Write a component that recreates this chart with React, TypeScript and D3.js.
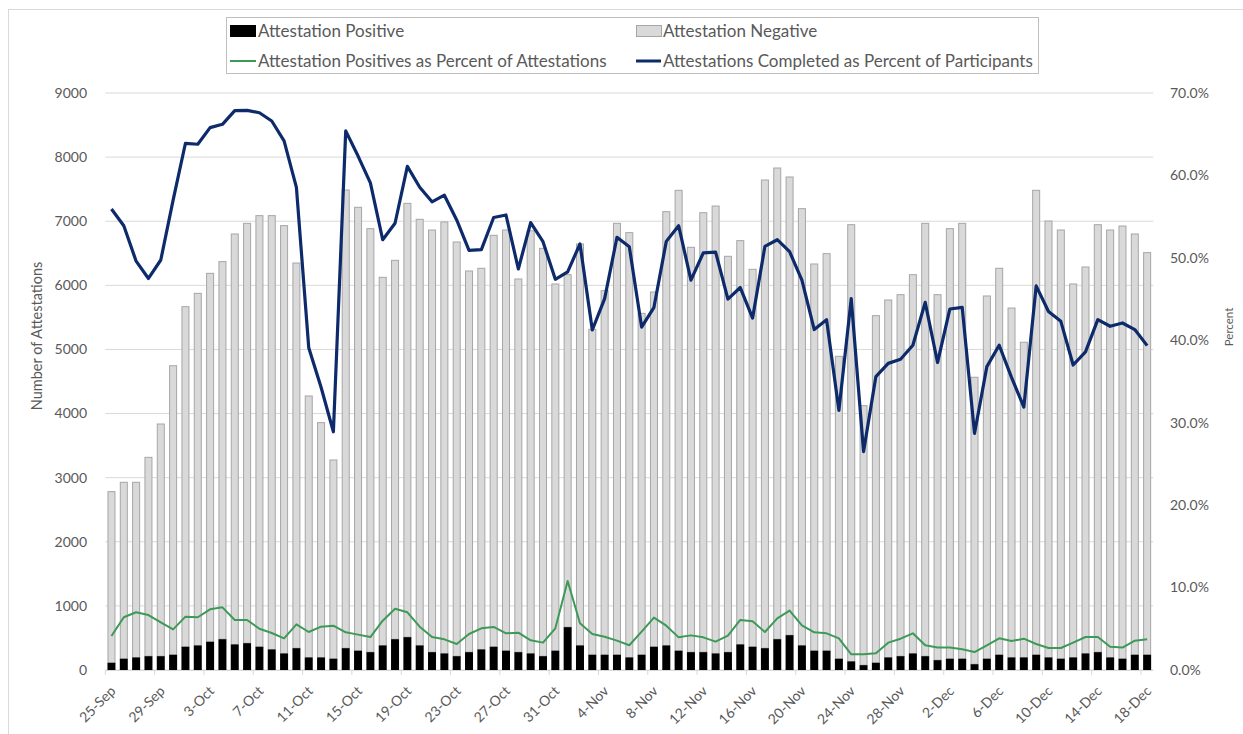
import React from "react";
import * as d3 from "d3";

// ---- Data ----
const START_DATE = new Date(2020, 8, 25); // 25-Sep
const TOTAL_ATTESTATIONS = [
  2782, 2928, 2928, 3317, 3837, 4746, 5667, 5875, 6187, 6370,
  6801, 6967, 7087, 7087, 6931, 6348, 4274, 3858, 3276, 7487,
  7217, 6884, 6125, 6390, 7279, 7030, 6863, 6988, 6676, 6224,
  6266, 6780, 6863, 6099, 6850, 6577, 6021, 6166, 6645, 5314,
  5917, 6967, 6822, 5563, 5896, 7149, 7482, 6593, 7133, 7237,
  6453, 6697, 6250, 7643, 7830, 7690, 7196, 6333, 6494, 4893,
  6946, 4123, 5527, 5771, 5854, 6166, 6967, 5854, 6884, 6967,
  4566, 5834, 6266, 5646, 5112, 7482, 7003, 6863, 6021, 6286,
  6946, 6863, 6925, 6801, 6510,
];
const POSITIVE = [
  112, 175, 195, 215, 215, 237, 362, 382, 440, 480,
  398, 418, 362, 320, 257, 340, 195, 195, 175, 340,
  300, 278, 382, 480, 512, 382, 278, 257, 215, 278,
  320, 362, 300, 278, 257, 215, 300, 668, 382, 237,
  237, 237, 195, 237, 362, 382, 300, 278, 278, 257,
  278, 398, 362, 340, 480, 543, 382, 300, 300, 175,
  133, 75, 112, 195, 215, 257, 215, 153, 175, 175,
  90, 175, 237, 195, 195, 237, 195, 175, 195, 257,
  278, 195, 175, 237, 237,
];
const POSITIVE_PCT = [
  4.12, 6.4, 7.0, 6.67, 5.78, 4.93, 6.47, 6.4, 7.36, 7.6,
  6.07, 6.07, 5.0, 4.49, 3.84, 5.54, 4.61, 5.26, 5.38, 4.57,
  4.29, 4.0, 5.98, 7.44, 7.0, 5.26, 4.0, 3.72, 3.15, 4.37,
  5.06, 5.22, 4.45, 4.53, 3.6, 3.32, 5.06, 10.8, 5.66, 4.37,
  4.04, 3.56, 3.0, 4.65, 6.35, 5.38, 3.96, 4.2, 3.96, 3.44,
  4.16, 6.07, 5.9, 4.61, 6.27, 7.2, 5.42, 4.57, 4.45, 3.84,
  1.9, 1.9, 2.02, 3.32, 3.8, 4.45, 3.0, 2.72, 2.72, 2.51,
  2.18, 3.0, 3.84, 3.52, 3.8, 3.15, 2.67, 2.67, 3.32, 4.0,
  4.0, 2.83, 2.72, 3.56, 3.72,
];
const COMPLETED_PCT = [
  55.93, 53.9, 49.6, 47.5, 49.74, 57.0, 63.9, 63.78, 65.8, 66.2,
  67.86, 67.9, 67.6, 66.6, 64.2, 58.56, 39.1, 34.3, 28.9, 65.4,
  62.35, 59.1, 52.2, 54.2, 61.1, 58.56, 56.8, 57.6, 54.6, 50.9,
  51.0, 54.9, 55.2, 48.65, 54.27, 51.96, 47.4, 48.3, 51.7, 41.25,
  45.05, 52.5, 51.35, 41.6, 44.0, 52.0, 53.9, 47.3, 50.6, 50.7,
  45.0, 46.4, 42.7, 51.4, 52.2, 50.75, 47.3, 41.3, 42.5, 31.5,
  45.05, 26.5, 35.6, 37.2, 37.7, 39.4, 44.6, 37.3, 43.8, 44.0,
  28.7, 36.8, 39.4, 35.5, 31.9, 46.6, 43.5, 42.3, 37.0, 38.6,
  42.5, 41.7, 42.1, 41.3, 39.35,
];
const LEFT_TICKS = [0, 1000, 2000, 3000, 4000, 5000, 6000, 7000, 8000, 9000];
const RIGHT_TICKS = [0, 0.1, 0.2, 0.3, 0.4, 0.5, 0.6, 0.7];
const LABEL_EVERY = 4;

const SERIES_NAMES = {
  pos: "Attestation Positive",
  neg: "Attestation Negative",
  posPct: "Attestation Positives as Percent of Attestations",
  compPct: "Attestations Completed as Percent of Participants",
};

const N = TOTAL_ATTESTATIONS.length;
const DATES = d3.range(N).map((i) => d3.timeDay.offset(START_DATE, i));
const NEGATIVE = TOTAL_ATTESTATIONS.map((t, i) => t - POSITIVE[i]);

const FONT = "Lato, 'Open Sans', sans-serif";
const TEXT = "#595959";

export default function App() {
  const W = 1243;
  const H = 734;
  const left = 105.3;
  const right = 1153.3;
  const top = 93;
  const bottom = 670;

  const x = d3
    .scaleBand<number>()
    .domain(d3.range(N))
    .range([left, right])
    .paddingInner(0.35)
    .paddingOuter(0.175);
  const yL = d3.scaleLinear().domain([0, 9000]).range([bottom, top]);
  const yR = d3.scaleLinear().domain([0, 0.7]).range([bottom, top]);
  const step = x.step();
  const cx = (i: number) => (x(i) as number) + x.bandwidth() / 2;
  const fmt = d3.timeFormat("%-d-%b");

  const pctLine = d3
    .line<number>()
    .x((_, i) => cx(i))
    .y((d) => yR(d / 100));

  const labelIdx = d3.range(0, N, LABEL_EVERY);

  return (
    <div style={{ position: "fixed", left: 0, top: 0 }}>
      <svg width={W} height={H} style={{ display: "block", background: "#fff" }} fontFamily={FONT}>
        <rect x={8.5} y={9.5} width={W} height={H} fill="#fff" stroke="#d9d9d9" />

        {/* gridlines */}
        {LEFT_TICKS.map((t) => (
          <line key={"g" + t} x1={left} x2={right} y1={yL(t)} y2={yL(t)} stroke="#d9d9d9" strokeWidth={1} />
        ))}

        {/* bars */}
        {TOTAL_ATTESTATIONS.map((t, i) => (
          <g key={"b" + i}>
            <rect
              x={(x(i) as number) + 0.5}
              width={x.bandwidth() - 1}
              y={yL(POSITIVE[i] + NEGATIVE[i])}
              height={yL(POSITIVE[i]) - yL(POSITIVE[i] + NEGATIVE[i])}
              fill="#d9d9d9"
              stroke="#a6a6a6"
              strokeWidth={1}
            />
            <rect
              x={x(i) as number}
              width={x.bandwidth()}
              y={yL(POSITIVE[i])}
              height={yL(0) - yL(POSITIVE[i])}
              fill="#000"
            />
          </g>
        ))}

        {/* x axis */}
        <line x1={left} x2={right} y1={bottom + 0.5} y2={bottom + 0.5} stroke="#d9d9d9" />
        {d3.range(0, N + 1, LABEL_EVERY).map((i) => (
          <line
            key={"t" + i}
            x1={left + i * step}
            x2={left + i * step}
            y1={bottom}
            y2={bottom + 5}
            stroke="#d9d9d9"
          />
        ))}
        {labelIdx.map((i) => (
          <text
            key={"xl" + i}
            transform={`translate(${cx(i) + 5},${bottom + 22}) rotate(-45)`}
            textAnchor="end"
            fontSize={14}
            fill={TEXT}
          >
            {fmt(DATES[i])}
          </text>
        ))}

        {/* lines */}
        <path d={pctLine(POSITIVE_PCT) || ""} fill="none" stroke="#3d9a56" strokeWidth={2} strokeLinejoin="round" />
        <path d={pctLine(COMPLETED_PCT) || ""} fill="none" stroke="#0d2a6b" strokeWidth={3.2} strokeLinejoin="round" />

        {/* left axis labels */}
        {LEFT_TICKS.map((t) => (
          <text key={"yl" + t} x={87} y={yL(t)} dy="0.35em" textAnchor="end" fontSize={14} fill={TEXT}>
            {t}
          </text>
        ))}
        <text transform={`translate(42,336) rotate(-90)`} textAnchor="middle" fontSize={14.5} fill={TEXT}>
          Number of Attestations
        </text>

        {/* right axis labels */}
        {RIGHT_TICKS.map((t) => (
          <text key={"yr" + t} x={1170} y={yR(t)} dy="0.35em" textAnchor="start" fontSize={14} fill={TEXT}>
            {d3.format(".1%")(t)}
          </text>
        ))}
        <text transform={`translate(1233,327) rotate(-90)`} textAnchor="middle" fontSize={11.5} fill={TEXT}>
          Percent
        </text>

        {/* legend */}
        <rect x={226.5} y={17.5} width={812} height={56} fill="#fff" stroke="#bfbfbf" />
        <rect x={230} y={25} width={26} height={12} fill="#000" />
        <text x={258} y={31} dy="0.35em" fontSize={17} fill={TEXT}>
          {SERIES_NAMES.pos}
        </text>
        <rect x={636.5} y={25.5} width={25} height={11} fill="#d9d9d9" stroke="#a6a6a6" />
        <text x={663} y={31} dy="0.35em" fontSize={17} fill={TEXT}>
          {SERIES_NAMES.neg}
        </text>
        <line x1={230} x2={256} y1={61} y2={61} stroke="#3d9a56" strokeWidth={2} />
        <text x={258} y={61} dy="0.35em" fontSize={17} fill={TEXT}>
          {SERIES_NAMES.posPct}
        </text>
        <line x1={636} x2={661} y1={61} y2={61} stroke="#0d2a6b" strokeWidth={3} />
        <text x={663} y={61} dy="0.35em" fontSize={17} fill={TEXT}>
          {SERIES_NAMES.compPct}
        </text>
      </svg>
    </div>
  );
}
